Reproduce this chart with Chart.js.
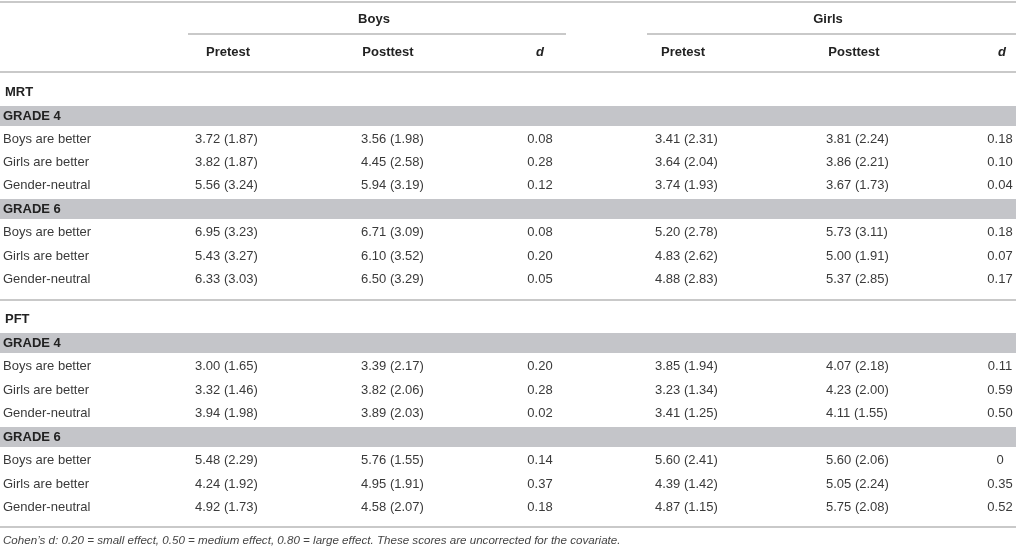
<!DOCTYPE html>
<html>
<head>
<meta charset="utf-8">
<script src="https://cdn.jsdelivr.net/npm/chart.js@4"></script>
<style>
  html, body { margin: 0; padding: 0; background: #fff; }
  #wrap { width: 1016px; height: 550px; }
</style>
</head>
<body>
<div id="wrap"><canvas id="chartTable"></canvas></div>
<script>
// table content
const measures = ['MRT', 'PFT'];
const grades = ['GRADE 4', 'GRADE 6'];
const categories = ['Boys are better', 'Girls are better', 'Gender-neutral'];
const groups = ['Boys', 'Girls'];
const columns = ['Pretest', 'Posttest', 'd'];

// rows: MRT G4, MRT G6, PFT G4, PFT G6 (3 categories each)
const boysPreMean  = [3.72, 3.82, 5.56, 6.95, 5.43, 6.33, 3.00, 3.32, 3.94, 5.48, 4.24, 4.92];
const boysPreSd    = [1.87, 1.87, 3.24, 3.23, 3.27, 3.03, 1.65, 1.46, 1.98, 2.29, 1.92, 1.73];
const boysPostMean = [3.56, 4.45, 5.94, 6.71, 6.10, 6.50, 3.39, 3.82, 3.89, 5.76, 4.95, 4.58];
const boysPostSd   = [1.98, 2.58, 3.19, 3.09, 3.52, 3.29, 2.17, 2.06, 2.03, 1.55, 1.91, 2.07];
const boysD        = [0.08, 0.28, 0.12, 0.08, 0.20, 0.05, 0.20, 0.28, 0.02, 0.14, 0.37, 0.18];
const girlsPreMean  = [3.41, 3.64, 3.74, 5.20, 4.83, 4.88, 3.85, 3.23, 3.41, 5.60, 4.39, 4.87];
const girlsPreSd    = [2.31, 2.04, 1.93, 2.78, 2.62, 2.83, 1.94, 1.34, 1.25, 2.41, 1.42, 1.15];
const girlsPostMean = [3.81, 3.86, 3.67, 5.73, 5.00, 5.37, 4.07, 4.23, 4.11, 5.60, 5.05, 5.75];
const girlsPostSd   = [2.24, 2.21, 1.73, 3.11, 1.91, 2.85, 2.18, 2.00, 1.55, 2.06, 2.24, 2.08];
const girlsD        = [0.18, 0.10, 0.04, 0.18, 0.07, 0.17, 0.11, 0.59, 0.50, 0, 0.35, 0.52];

const footnote = 'Cohen\u2019s d: 0.20 = small effect, 0.50 = medium effect, 0.80 = large effect. These scores are uncorrected for the covariate.';

// layout (page pixels, used through the scales)
const FONT = '"Liberation Sans", Arial, sans-serif';
const TEXT = '#3a3a3a';
const LINE = '#c9c9c9';
const BAND = '#c4c5c9';
const measureY = [92, 319];
const gradeY = [[116, 209], [343, 437]];
const rowY = [[[139, 162, 185], [232, 256, 279]], [[366, 390, 413], [460, 484, 507]]];
const colX = [195, 361, 540, 655, 826, 1000];
const colAlign = ['left', 'left', 'center', 'left', 'left', 'center'];
const headX = [228, 388, 540, 683, 854, 1002];
const groupX = [374, 828];
const groupLine = [[188, 566], [647, 1016]];
const hLines = [2, 72, 300, 527];

const fmtMs = (m, s) => m.toFixed(2) + ' (' + s.toFixed(2) + ')';
const fmtD = d => d === 0 ? '0' : d.toFixed(2);

// flat list of row positions in data order
const rowPos = [];
measures.forEach((m, mi) => grades.forEach((g, gi) => categories.forEach((c, ci) => rowPos.push(rowY[mi][gi][ci]))));

const cellSets = [
  boysPreMean.map((v, i) => fmtMs(v, boysPreSd[i])),
  boysPostMean.map((v, i) => fmtMs(v, boysPostSd[i])),
  boysD.map(fmtD),
  girlsPreMean.map((v, i) => fmtMs(v, girlsPreSd[i])),
  girlsPostMean.map((v, i) => fmtMs(v, girlsPostSd[i])),
  girlsD.map(fmtD)
];

const datasets = [];
// row labels
datasets.push({
  labels: rowPos.map((y, i) => categories[i % 3]),
  data: rowPos.map(y => ({ x: 3, y: y })),
  align: 'left', font: '13px ' + FONT
});
cellSets.forEach((cells, c) => {
  datasets.push({
    labels: cells,
    data: rowPos.map(y => ({ x: colX[c], y: y })),
    align: colAlign[c], font: '13px ' + FONT
  });
});

const tablePlugin = {
  id: 'tablePlugin',
  beforeDatasetsDraw(chart) {
    const { ctx, scales: { x, y } } = chart;
    ctx.save();
    // grade bands
    gradeY.forEach(gs => gs.forEach(gy => {
      ctx.fillStyle = BAND;
      ctx.fillRect(x.getPixelForValue(0), y.getPixelForValue(gy - 10), x.getPixelForValue(1016) - x.getPixelForValue(0), y.getPixelForValue(gy + 10) - y.getPixelForValue(gy - 10));
    }));
    ctx.strokeStyle = LINE;
    ctx.lineWidth = 2;
    hLines.forEach(ly => {
      ctx.beginPath();
      ctx.moveTo(x.getPixelForValue(0), y.getPixelForValue(ly));
      ctx.lineTo(x.getPixelForValue(1016), y.getPixelForValue(ly));
      ctx.stroke();
    });
    groupLine.forEach(([a, b]) => {
      ctx.beginPath();
      ctx.moveTo(x.getPixelForValue(a), y.getPixelForValue(34));
      ctx.lineTo(x.getPixelForValue(b), y.getPixelForValue(34));
      ctx.stroke();
    });
    ctx.restore();
  },
  afterDatasetsDraw(chart) {
    const { ctx, scales: { x, y } } = chart;
    ctx.save();
    ctx.textBaseline = 'middle';
    ctx.fillStyle = TEXT;
    chart.data.datasets.forEach((ds, di) => {
      const meta = chart.getDatasetMeta(di);
      ctx.font = ds.font;
      ctx.textAlign = ds.align;
      meta.data.forEach((pt, i) => ctx.fillText(ds.labels[i], pt.x, pt.y));
    });
    // headers
    ctx.fillStyle = '#222';
    ctx.textAlign = 'center';
    ctx.font = 'bold 13px ' + FONT;
    groups.forEach((g, i) => ctx.fillText(g, x.getPixelForValue(groupX[i]), y.getPixelForValue(19)));
    headX.forEach((hx, i) => {
      const name = columns[i % 3];
      ctx.font = (name === 'd' ? 'italic bold 13px ' : 'bold 13px ') + FONT;
      ctx.fillText(name, x.getPixelForValue(hx), y.getPixelForValue(52));
    });
    ctx.textAlign = 'left';
    ctx.font = 'bold 13px ' + FONT;
    measures.forEach((m, mi) => {
      ctx.fillText(m, x.getPixelForValue(5), y.getPixelForValue(measureY[mi]));
      grades.forEach((g, gi) => ctx.fillText(g, x.getPixelForValue(3), y.getPixelForValue(gradeY[mi][gi])));
    });
    ctx.fillStyle = '#444';
    ctx.font = 'italic 11.6px ' + FONT;
    ctx.fillText(footnote, x.getPixelForValue(3), y.getPixelForValue(541));
    ctx.restore();
  }
};

const chartTable = new Chart(document.getElementById('chartTable').getContext('2d'), {
  type: 'scatter',
  data: { datasets: datasets },
  options: {
    responsive: true,
    maintainAspectRatio: false,
    animation: false,
    layout: { padding: 0 },
    elements: { point: { radius: 0, hoverRadius: 0 } },
    plugins: { legend: { display: false }, tooltip: { enabled: false } },
    scales: {
      x: { type: 'linear', min: 0, max: 1016, display: false },
      y: { type: 'linear', min: 0, max: 550, reverse: true, display: false }
    }
  },
  plugins: [tablePlugin]
});
</script>
</body>
</html>
